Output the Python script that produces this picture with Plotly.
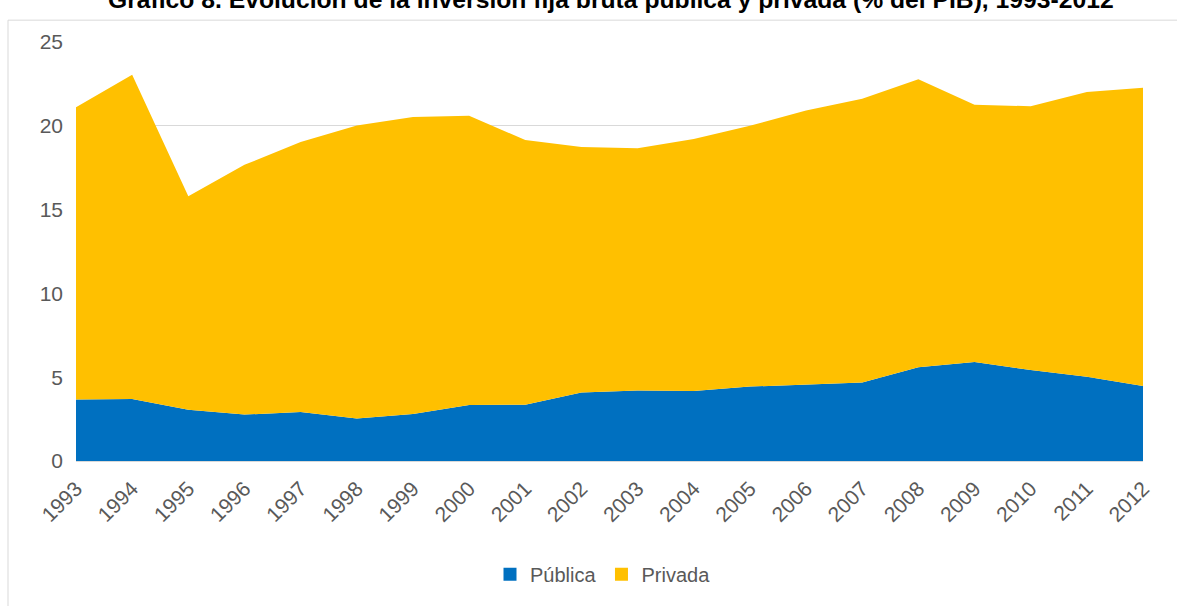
import plotly.graph_objects as go

# Inversión fija bruta (% del PIB)
years = list(range(1993, 2013))
publica = [3.67, 3.70, 3.06, 2.77, 2.92, 2.53, 2.80, 3.34, 3.36, 4.09,
           4.20, 4.17, 4.44, 4.54, 4.68, 5.59, 5.90, 5.43, 5.02, 4.48]
privada = [17.43, 19.35, 12.74, 14.90, 16.11, 17.49, 17.72, 17.26, 15.79, 14.65,
           14.46, 15.04, 15.56, 16.37, 16.94, 17.18, 15.35, 15.74, 17.00, 17.79]
y_ticks = [0, 5, 10, 15, 20, 25]
series_names = ["Pública", "Privada"]

title_text = ("Gráfico 8. Evolución de la inversión fija bruta pública y privada "
              "(% del PIB), 1993-2012")

AZUL = "#0070C0"
AMARILLO = "#FFC000"
GRIS_TXT = "#595959"
GRIS_LIN = "#D9D9D9"
FONT = "Arial, Liberation Sans, sans-serif"
colors = [AZUL, AMARILLO]

fig = go.Figure()
for name, vals, col in zip(series_names, [publica, privada], colors):
    fig.add_trace(go.Scatter(
        x=years, y=vals, name=name, mode="lines",
        stackgroup="inv", line=dict(width=0, color=col),
        fillcolor=col, showlegend=False,
    ))
# square legend keys
for name, col in zip(series_names, colors):
    fig.add_trace(go.Scatter(
        x=[None], y=[None], name=name, mode="markers",
        marker=dict(symbol="square", size=13, color=col),
        showlegend=True,
    ))

W, H = 1177, 606
L, R, T, B = 76, 34, 42, 142
pw, ph = W - L - R, H - T - B

def px_x(x):
    return (x - L) / pw

def px_y(y):
    return (H - B - y) / ph

# chart-area frame
fig.add_shape(type="rect", xref="paper", yref="paper",
              x0=px_x(8), x1=px_x(1200), y0=px_y(640), y1=px_y(20),
              line=dict(color=GRIS_LIN, width=1), fillcolor="rgba(0,0,0,0)",
              layer="below")

fig.add_annotation(
    text=f"<b>{title_text}</b>", xref="paper", yref="paper",
    x=px_x(611), y=1, xanchor="center", yanchor="bottom", yshift=27,
    showarrow=False, font=dict(family=FONT, size=24.7, color="#000000"),
)

fig.update_layout(
    width=W, height=H,
    margin=dict(l=L, r=R, t=T, b=B),
    paper_bgcolor="white", plot_bgcolor="white",
    font=dict(family=FONT, color=GRIS_TXT),
    showlegend=True,
    legend=dict(orientation="h", x=px_x(603), xanchor="center",
                y=px_y(578), yanchor="middle", traceorder="normal",
                font=dict(family=FONT, size=20, color=GRIS_TXT),
                itemwidth=30, tracegroupgap=0),
)
fig.update_xaxes(
    range=[1993, 2012], tickmode="array", tickvals=years,
    ticktext=[str(y) for y in years], tickangle=-45,
    tickfont=dict(family=FONT, size=21, color=GRIS_TXT),
    showgrid=False, zeroline=False, showline=True,
    linecolor=GRIS_LIN, linewidth=1, ticks="", ticklabelstandoff=6,
)
fig.update_yaxes(
    range=[0, 25], tickmode="array", tickvals=y_ticks,
    tickfont=dict(family=FONT, size=21, color=GRIS_TXT),
    showgrid=True, gridcolor=GRIS_LIN, gridwidth=1,
    zeroline=False, showline=False, ticks="", ticklabelstandoff=12,
)

fig.write_html("out.html")
